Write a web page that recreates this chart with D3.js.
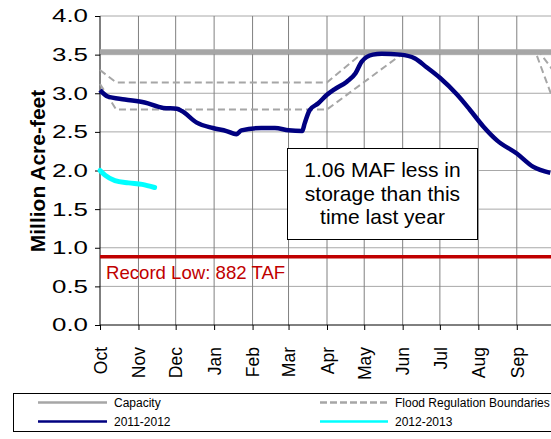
<!DOCTYPE html>
<html><head><meta charset="utf-8">
<script src="https://cdn.jsdelivr.net/npm/d3@7"></script>
<style>
body{margin:0;background:#fff;}
text{font-family:"Liberation Sans",Arial,sans-serif;}
</style></head>
<body><svg id="c" width="551" height="439"></svg>
<script>
// ---------- data ----------
const capacity = 3.538;        // MAF
const recordLow = 0.882;       // MAF (882 TAF)
const yTicks = [0,0.5,1,1.5,2,2.5,3,3.5,4];

const dates1112 = ["2011-10-01","2011-10-07","2011-10-21","2011-11-06","2011-11-21","2011-12-02","2011-12-06","2011-12-18","2011-12-31","2012-01-11","2012-01-19","2012-01-23","2012-02-08","2012-02-19","2012-03-01","2012-03-12","2012-03-14","2012-03-18","2012-03-25","2012-04-01","2012-04-07","2012-04-17","2012-04-24","2012-04-29","2012-05-08","2012-05-15","2012-05-30","2012-06-11","2012-06-20","2012-07-01","2012-07-15","2012-07-25","2012-08-05","2012-08-16","2012-09-01","2012-09-14","2012-09-28"];
const values1112 = [3.04,2.96,2.92,2.88,2.81,2.80,2.77,2.62,2.55,2.51,2.47,2.52,2.55,2.55,2.52,2.51,2.61,2.78,2.87,2.98,3.05,3.15,3.26,3.41,3.50,3.51,3.50,3.45,3.34,3.20,2.98,2.79,2.57,2.39,2.22,2.05,1.97];

const dates1213 = ["2012-10-01","2012-10-05","2012-10-13","2012-10-24","2012-11-04","2012-11-14"];
const values1213 = [2.00,1.94,1.87,1.84,1.82,1.78];

const floodUpperDates = ["2011-10-01","2011-10-14","2012-04-01","2012-05-01","2012-09-19","2012-09-30"];
const floodUpperValues = [3.30,3.14,3.14,3.538,3.538,3.30];
const floodLowerDates = ["2011-10-01","2011-10-14","2012-04-01","2012-06-03","2012-09-16","2012-09-30"];
const floodLowerValues = [3.12,2.79,2.79,3.538,3.538,2.93];

const noteLines = ["1.06 MAF less in","storage than this","time last year"];
const recordLabel = "Record Low: 882 TAF";
const yTitle = "Million Acre-feet";

// ---------- scales ----------
const parse = d3.timeParse("%Y-%m-%d");
const svg = d3.select("#c");
const x = d3.scaleTime().domain([parse("2011-10-01"), parse("2012-10-01")]).range([100, 554]);
const y = d3.scaleLinear().domain([0,4]).range([325, 16]);

svg.append("rect").attr("width",551).attr("height",439).attr("fill","#fff");

const months = d3.timeMonth.range(parse("2011-10-01"), parse("2012-10-02"));

// grid
svg.append("g").selectAll("line").data(yTicks.slice(1)).join("line")
  .attr("x1",100).attr("x2",554).attr("y1",d=>y(d)).attr("y2",d=>y(d))
  .attr("stroke","#a8a8a8").attr("stroke-width",1);
svg.append("g").selectAll("line").data(months.slice(1)).join("line")
  .attr("x1",d=>x(d)).attr("x2",d=>x(d)).attr("y1",y(4)).attr("y2",y(0))
  .attr("stroke","#808080").attr("stroke-width",1);

// axes
const yAxis = svg.append("g").attr("transform","translate(100,0)")
  .call(d3.axisLeft(y).tickValues(yTicks).tickFormat(d3.format(".1f")).tickSize(5).tickPadding(7));
yAxis.selectAll("text").attr("font-size",18.5).attr("fill","#000")
  .attr("x",0).attr("transform","translate(-12,0) scale(1.4,1)");
const xAxis = svg.append("g").attr("transform","translate(0,325)")
  .call(d3.axisBottom(x).tickValues(months.slice(0,12)).tickFormat(d3.timeFormat("%b")).tickSize(5));
xAxis.selectAll("text").attr("font-size",17.5).attr("fill","#000")
  .attr("transform","rotate(-90)").attr("text-anchor","end")
  .attr("x",-22).attr("y",0).attr("dy","0.36em");
svg.selectAll(".domain, .tick line").attr("stroke","#000");
svg.selectAll(".domain").attr("d", null);
svg.append("line").attr("x1",100).attr("x2",100).attr("y1",y(4)).attr("y2",y(0)).attr("stroke","#000");
svg.append("line").attr("x1",100).attr("x2",554).attr("y1",y(0)).attr("y2",y(0)).attr("stroke","#000");

// y title
svg.append("text").attr("transform","translate(45,171) rotate(-90)")
  .attr("text-anchor","middle").attr("font-size",21).attr("font-weight","bold").text(yTitle);

const line = d3.line().x(d=>x(d[0])).y(d=>y(d[1])).curve(d3.curveMonotoneX);
const lineL = d3.line().x(d=>x(d[0])).y(d=>y(d[1]));

// capacity
svg.append("line").attr("x1",100).attr("x2",554).attr("y1",y(capacity)).attr("y2",y(capacity))
  .attr("stroke","#a6a6a6").attr("stroke-width",5);
// flood boundaries
[[floodUpperDates,floodUpperValues],[floodLowerDates,floodLowerValues]].forEach(([ds,vs])=>{
  svg.append("path").attr("d",lineL(ds.map((d,i)=>[parse(d),vs[i]])))
    .attr("fill","none").attr("stroke","#a6a6a6").attr("stroke-width",2).attr("stroke-dasharray","7,4");
});
// record low
svg.append("line").attr("x1",100).attr("x2",554).attr("y1",y(recordLow)).attr("y2",y(recordLow))
  .attr("stroke","#c00000").attr("stroke-width",3.5);
svg.append("text").attr("x",106).attr("y",279).attr("font-size",18.6).attr("fill","#c00000").text(recordLabel);

// 2011-2012
svg.append("path").attr("d",line(dates1112.map((d,i)=>[parse(d),values1112[i]])))
  .attr("fill","none").attr("stroke","#000080").attr("stroke-width",4.5).attr("stroke-linejoin","round");
// 2012-2013 (plotted on same water-year axis)
svg.append("path").attr("d",line(dates1213.map((d,i)=>[d3.timeYear.offset(parse(d),-1),values1213[i]])))
  .attr("fill","none").attr("stroke","#00ffff").attr("stroke-width",5).attr("stroke-linecap","round");

// note box
svg.append("rect").attr("x",287.5).attr("y",148.5).attr("width",190).attr("height",91)
  .attr("fill","#fff").attr("stroke","#000").attr("stroke-width",1);
svg.append("g").selectAll("text").data(noteLines).join("text")
  .attr("x",382.5).attr("y",(d,i)=>177+i*23.5).attr("text-anchor","middle").attr("font-size",21).text(d=>d);

// legend
svg.append("rect").attr("x",13.5).attr("y",393.5).attr("width",560).attr("height",38)
  .attr("fill","#fff").attr("stroke","#000").attr("stroke-width",1);
const legendItems = [
  {label:"Capacity", color:"#a6a6a6", dash:null, x1:38, x2:107, y:402.5},
  {label:"2011-2012", color:"#000080", dash:null, x1:38, x2:107, y:421.5},
  {label:"Flood Regulation Boundaries", color:"#a6a6a6", dash:"7,3", x1:320, x2:388, y:402.5},
  {label:"2012-2013", color:"#00ffff", dash:null, x1:320, x2:388, y:421.5}
];
const lg = svg.append("g").selectAll("g").data(legendItems).join("g");
lg.append("line").attr("x1",d=>d.x1).attr("x2",d=>d.x2).attr("y1",d=>d.y).attr("y2",d=>d.y)
  .attr("stroke",d=>d.color).attr("stroke-width",2.5).attr("stroke-dasharray",d=>d.dash);
lg.append("text").attr("x",d=>d.x2+7).attr("y",d=>d.y+4.5).attr("font-size",12).text(d=>d.label);
</script></body></html>
